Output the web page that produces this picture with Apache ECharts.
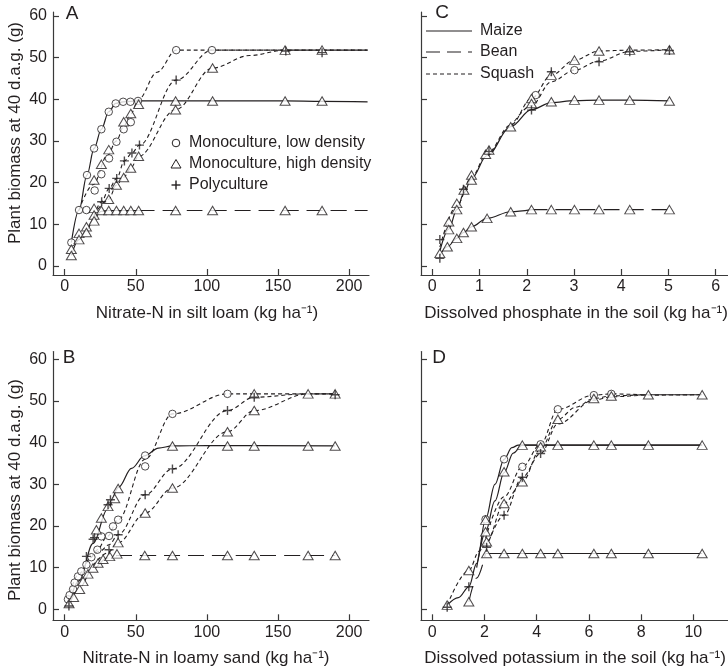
<!DOCTYPE html>
<html><head><meta charset="utf-8">
<script src="https://cdn.jsdelivr.net/npm/echarts@6/dist/echarts.min.js"></script>
<style>html,body{margin:0;padding:0;background:#fff}#c{width:728px;height:668px}</style>
</head><body><div id="c"></div>
<script>
// ---------- tick labels ----------
const xTicksNitrate = [0, 50, 100, 150, 200];
const xTicksPhosphate = [0, 1, 2, 3, 4, 5, 6];
const xTicksPotassium = [0, 2, 4, 6, 8, 10];
const yTicks = [0, 10, 20, 30, 40, 50, 60];

// ---------- Panel A : nitrate, silt loam ----------
const aCircles = [[4.7,5.6],[10.1,13.4],[15.3,13.4],[15.7,21.8],[20.7,28.2],[25.8,32.8],[31.0,37.0],[35.9,39.0],[41.1,39.4],[46.2,39.4],[51.6,39.6],
  [21.1,18.1],[25.8,22.0],[31.2,25.8],[36.4,29.8],[41.5,32.8],[46.5,34.5],[78.4,51.8],[103.6,51.8]];
const aTriangles = [[4.7,4.0],[4.7,2.5],[10.1,7.8],[10.1,6.3],[15.3,9.4],[15.3,8.0],[20.7,13.8],[20.7,12.2],[20.7,10.8],[20.7,20.6],
  [25.8,13.3],[25.8,24.4],[31.0,13.3],[31.0,27.9],[31.0,16.0],[36.4,13.3],[36.4,19.4],[41.5,13.3],[41.5,34.6],[41.5,21.2],
  [46.5,13.3],[46.5,36.6],[46.5,23.5],[52,13.3],[52,38.8],[52,26.3],[78,13.3],[78,39.6],[78,37.5],[104,13.3],[104,39.6],[104,47.5],
  [155,13.3],[155,39.6],[155,51.8],[181,13.3],[181,39.6],[181,51.8]];
const aPluses = [[26.0,15.4],[31.3,18.6],[36.6,21.0],[42.0,25.2],[47.3,27.1],[52.6,29.0],[78.4,44.6],[155.5,51.6],[181,51.2]];
const aMaizeCurve = [[4.7,5.6],[10.1,13.4],[15.7,21.8],[20.7,28.2],[25.8,32.8],[31,37],[35.9,39],[41,39.4],[52,39.6],[78,39.6],[104,39.6],[155,39.6],[181,39.5],[213,39.4]];
const aBeanCurve = [[4.7,2.5],[10.1,6.3],[15.3,8.5],[20.7,11.5],[25.8,13.1],[31,13.3],[52,13.3],[78,13.3],[104,13.3],[155,13.3],[181,13.3],[213,13.3]];
const aSquashLowCurve = [[10.1,13.4],[20,19.5],[30,26.5],[36.4,30],[41.5,33.5],[46.5,36.5],[52,40],[65,46.5],[78.4,51.8],[103.6,51.8],[155,51.8],[213,51.8]];
const aSquashPolyCurve = [[20.7,12],[26,15.4],[31.3,18.6],[36.6,21],[42,25.2],[47.3,27.1],[52.6,29],[78.4,44.6],[103.6,51.8],[155.5,51.8],[213,51.8]];
const aSquashHighCurve = [[20.7,12.2],[31,16],[36.4,19.4],[41.5,21.2],[46.5,23.5],[52,26.3],[78,37.5],[104,47.5],[130,50.5],[155,51.8],[181,51.8],[213,51.8]];

// ---------- Panel B : nitrate, loamy sand ----------
const bCircles = [[2.3,2.4],[3.5,3.4],[5.9,4.8],[7.0,6.4],[9.4,7.9],[11.7,9.1],[15.3,10.7],[18.8,12.5],[23.0,14.3],[25.8,17.5],[31.2,17.6],[34.0,19.9],[37.6,21.5],[56.6,36.9],[56.6,34.3],[75.8,46.9],[114.5,51.7]];
const bTriangles = [[3.1,1.4],[6.3,2.9],[10.6,4.8],[12.9,6.7],[16.4,8.5],[19.9,9.9],[23.5,11.1],[27.0,12.0],[31.7,12.7],[36.8,13.3],[56.3,12.9],[75.8,12.9],[114.5,12.9],[133.3,12.9],[171.2,12.9],[190.2,12.9],
  [22.3,19.1],[25.8,21.9],[30.5,24.7],[35.2,26.6],[37.6,29.0],[75.8,39.2],[114.5,39.2],[133.3,39.2],[171.2,39.2],[190.2,39.2],
  [37.6,16.0],[56.6,23.1],[75.8,29.1],[114.5,42.6],[133.3,47.7],[133.3,51.7],[171.2,51.7],[190.2,51.7]];
const bPluses = [[3,0.8],[15.3,12.7],[20,16.8],[21,17.2],[30.5,25.1],[32.2,26.3],[31.2,14.3],[37.6,17.9],[56.6,27.5],[75.8,33.7],[114.5,47.7],[133.3,50.9],[190.2,51.5]];
const bMaizeCurve = [[3.1,1.4],[10,6.8],[20,15.8],[30,24],[38,29.3],[47,33.8],[56,36.8],[66,38.7],[75.8,39.2],[100,39.3],[190.2,39.2]];
const bBeanCurve = [[3.1,1.0],[10,5],[20,9.8],[30,12.3],[37,12.9],[56.3,12.9],[114.5,12.9],[190.2,12.9]];
const bSquashLowCurve = [[2.3,2.4],[10,8.5],[18.8,12.5],[23,14.3],[30,17.5],[37.6,21.5],[56.6,36],[75.8,46.9],[114.5,51.7],[133.3,51.7],[190.2,51.7]];
const bSquashPolyCurve = [[15,11],[25,14],[31.2,15.5],[37.6,17.9],[56.6,27.5],[75.8,33.7],[114.5,47.7],[133.3,50.9],[170,51.7],[190.2,51.7]];
const bSquashHighCurve = [[20,10.5],[30,13.5],[37.6,16],[56.6,23.1],[75.8,29.1],[114.5,42.6],[133.3,47.7],[171.2,51.7],[190.2,51.7]];

// ---------- Panel C : phosphate ----------
const cTriangles = [[0.16,3.0],[0.32,4.6],[0.35,10.6],[0.35,8.7],[0.52,15.0],[0.52,13.5],[0.52,6.6],[0.66,8.0],[0.67,18.2],[0.83,21.8],[0.83,20.6],[0.83,9.4],
  [1.16,11.4],[1.13,26.8],[1.2,27.8],[1.66,33.4],[1.66,13.0],[2.1,13.5],[2.1,40.2],[2.1,39.0],[2.52,13.5],[2.52,39.4],[2.52,45.8],
  [3.01,13.5],[3.01,39.8],[3.01,49.4],[3.53,13.5],[3.53,39.8],[3.53,51.6],[4.18,13.5],[4.18,39.8],[4.18,51.8],[5.02,13.5],[5.02,39.6],[5.02,51.9]];
const cCircles = [[2.19,41.0],[3.01,47.0]];
const cPluses = [[0.16,6.3],[0.16,1.8],[0.66,18.4],[1.2,27.5],[2.1,37.4],[2.52,46.6],[3.53,49.0],[4.18,51.4],[5.02,51.7]];
const cMaizeCurve = [[0.16,3.5],[0.35,8.8],[0.52,13.5],[0.67,17.5],[0.83,21],[1.16,26.5],[1.66,33.4],[2.1,37.5],[2.52,39.2],[3.01,39.7],[3.53,39.8],[4.18,39.8],[5.02,39.6]];
const cBeanCurve = [[0.16,2.5],[0.32,4.6],[0.52,6.6],[0.66,8],[0.83,9.4],[1.16,11.4],[1.66,13.0],[2.1,13.5],[3.01,13.5],[5.02,13.5]];
const cSquashHighCurve = [[0.16,4.5],[0.52,14.5],[0.83,21.3],[1.16,27],[1.66,33.8],[2.1,40.2],[2.52,45.8],[3.01,49.4],[3.53,51.6],[4.18,51.8],[5.02,51.9]];
const cSquashLowCurve = [[1.66,33.4],[2.1,38.5],[2.52,44.2],[3.01,47],[3.53,49.2],[4.18,51.5],[5.02,51.9]];

// ---------- Panel D : potassium ----------
const dTriangles = [[0.57,1.0],[1.40,1.8],[1.40,9.3],[2.04,21.4],[2.04,18.6],[2.08,16.2],[2.08,13.4],[2.75,33.0],[2.75,25.4],[2.75,13.4],
  [3.45,39.4],[3.45,30.6],[3.45,13.4],[4.15,13.4],[4.15,39.0],[4.81,13.4],[4.81,39.4],[4.81,45.6],[6.19,13.4],[6.19,39.4],[6.19,50.6],
  [6.86,13.4],[6.86,39.4],[6.86,51.2],[8.28,13.4],[8.28,39.4],[8.28,51.5],[10.34,13.4],[10.34,39.4],[10.34,51.5]];
const dCircles = [[2.04,21.6],[2.75,36.0],[3.45,34.2],[4.15,39.6],[4.81,48.0],[6.19,51.4],[6.86,51.7]];
const dPluses = [[0.57,0.5],[1.40,5.4],[2.08,14.9],[2.75,22.6],[3.45,31.7],[4.15,37.4]];
const dMaizeLowCurve = [[0.57,1.0],[1.0,2.8],[1.4,5.4],[1.7,11],[2.04,21.6],[2.4,30],[2.75,36.0],[3.05,38.8],[3.3,39.4],[4.15,39.4],[10.34,39.4]];
const dMaizeHighCurve = [[1.7,10],[2.04,18.6],[2.4,26],[2.75,32.8],[3.1,37.5],[3.45,39.4],[6.19,39.4],[10.34,39.4]];
const dBeanCurve = [[1.4,1.8],[1.7,7.5],[2.04,13.4],[2.75,13.4],[6.19,13.4],[10.34,13.4]];
const dSquashHighCurve = [[0.57,1.0],[1.4,9.3],[1.8,14],[2.08,16.2],[2.75,25.4],[3.45,30.6],[4.15,38.5],[4.81,45.6],[5.5,48.5],[6.19,50.6],[6.86,51.2],[8.28,51.5],[10.34,51.5]];
const dSquashLowCurve = [[2.04,17],[2.75,27],[3.45,34.2],[4.15,39.6],[4.81,48.0],[6.19,51.4],[6.86,51.7],[8.28,51.5],[10.34,51.5]];
const dSquashPolyCurve = [[2.08,14.9],[2.75,22.6],[3.45,31.7],[4.15,37.4],[4.81,44.5],[6.19,50.2],[6.86,51],[8.28,51.4],[10.34,51.5]];

// ---------- styling ----------
const INK = '#231f20';
const AX = '#3a3a3a';
const FONT = '"Liberation Sans", Arial, Helvetica, sans-serif';
const SOLID = 'solid', LONG = [16, 8], SHORT = [4, 3];
const PLUS = 'path://M0,5L10,5M5,0L5,10';

function curve(g, data, type, w) {
  return { type: 'line', xAxisIndex: g, yAxisIndex: g, data: data, showSymbol: false, symbol: 'none',
    smooth: 0.35, smoothMonotone: 'x', silent: true, z: 1,
    lineStyle: { color: INK, width: w || 1.1, type: type } };
}
function splitCurve(g, data, xs, firstType, secondType) {
  return [curve(g, data.filter(p => p[0] <= xs), firstType), curve(g, data.filter(p => p[0] >= xs), secondType)];
}
function marks(g, data, kind) {
  const s = { type: 'scatter', xAxisIndex: g, yAxisIndex: g, data: data, silent: true, z: 3 };
  if (kind === 'circle') { s.symbol = 'circle'; s.symbolSize = 7.5; s.itemStyle = { color: '#fff', borderColor: INK, borderWidth: 1 }; }
  if (kind === 'triangle') { s.symbol = 'triangle'; s.symbolSize = [10, 8.5]; s.itemStyle = { color: '#fff', borderColor: INK, borderWidth: 1 }; }
  if (kind === 'plus') { s.symbol = PLUS; s.symbolSize = 9; s.z = 4; s.itemStyle = { color: 'rgba(0,0,0,0)', borderColor: INK, borderWidth: 1.4 }; }
  return s;
}

const grids = [
  { left: 53, top: 12, width: 316, height: 263 },    // A
  { left: 53, top: 351.5, width: 316, height: 268.8 },  // B
  { left: 421, top: 12, width: 307, height: 263 },   // C
  { left: 421, top: 351.5, width: 307, height: 268.8 }  // D
];
const xRanges = [[-8.2, 214], [-8.2, 214], [-0.239, 6.26], [-0.433, 11.33]];
const xTickSets = [xTicksNitrate, xTicksNitrate, xTicksPhosphate, xTicksPotassium];
const yRanges = [[-2.2, 60.96], [-2.64, 61.87], [-2.2, 60.96], [-2.64, 61.87]];

const xAxes = grids.map((g, i) => ({
  type: 'value', gridIndex: i, min: xRanges[i][0], max: xRanges[i][1],
  axisLine: { show: true, onZero: false, lineStyle: { color: AX, width: 1.2 } },
  axisTick: { show: true, inside: true, length: 6, customValues: xTickSets[i], lineStyle: { color: AX, width: 1.2 } },
  axisLabel: { show: true, customValues: xTickSets[i], fontSize: 16, color: INK, fontFamily: FONT, margin: 4 },
  splitLine: { show: false }
}));
const yAxes = grids.map((g, i) => ({
  type: 'value', gridIndex: i, min: yRanges[i][0], max: yRanges[i][1],
  axisLine: { show: true, onZero: false, lineStyle: { color: AX, width: 1.2 } },
  axisTick: { show: true, inside: true, length: 6, customValues: yTicks, lineStyle: { color: AX, width: 1.2 } },
  axisLabel: { show: i < 2, customValues: yTicks, fontSize: 16, color: INK, fontFamily: FONT, margin: 6 },
  splitLine: { show: false }
}));

const series = [
  // A
  curve(0, aMaizeCurve, SOLID, 1.2),
  ...splitCurve(0, aBeanCurve, 52, SOLID, LONG),
  curve(0, aSquashLowCurve, SHORT), curve(0, aSquashPolyCurve, SHORT), curve(0, aSquashHighCurve, SHORT),
  marks(0, aCircles, 'circle'), marks(0, aTriangles, 'triangle'), marks(0, aPluses, 'plus'),
  // B
  curve(1, bMaizeCurve, SOLID, 1.2), curve(1, bBeanCurve, LONG),
  curve(1, bSquashLowCurve, SHORT), curve(1, bSquashPolyCurve, SHORT), curve(1, bSquashHighCurve, SHORT),
  marks(1, bCircles, 'circle'), marks(1, bTriangles, 'triangle'), marks(1, bPluses, 'plus'),
  // C
  curve(2, cMaizeCurve, SOLID, 1.2),
  ...splitCurve(2, cBeanCurve, 2.1, SOLID, LONG),
  curve(2, cSquashHighCurve, SHORT), curve(2, cSquashLowCurve, SHORT),
  marks(2, cCircles, 'circle'), marks(2, cTriangles, 'triangle'), marks(2, cPluses, 'plus'),
  // D
  curve(3, dMaizeLowCurve, SOLID, 1.2), curve(3, dMaizeHighCurve, SOLID, 1.2),
  ...splitCurve(3, dBeanCurve, 2.04, LONG, SOLID),
  curve(3, dSquashHighCurve, SHORT), curve(3, dSquashLowCurve, SHORT), curve(3, dSquashPolyCurve, SHORT),
  marks(3, dCircles, 'circle'), marks(3, dTriangles, 'triangle'), marks(3, dPluses, 'plus')
];

function txt(x, y, s, size, rot) {
  return { type: 'text', x: x, y: y, rotation: rot || 0, z: 10,
    style: { text: s, fill: INK, font: size + 'px ' + FONT, align: 'center', verticalAlign: 'middle' } };
}
function ltxt(x, y, s) {
  return { type: 'text', x: x, y: y, z: 10, style: { text: s, fill: INK, font: '16px ' + FONT, align: 'left', verticalAlign: 'middle' } };
}
const sym = { fill: '#fff', stroke: INK, lineWidth: 1 };
const graphics = [
  txt(72, 14, 'A', 19), txt(69, 358, 'B', 19), txt(442, 13, 'C', 19), txt(439, 358, 'D', 19),
  txt(15, 133, 'Plant biomass at 40 d.a.g. (g)', 17, Math.PI / 2),
  txt(15, 490, 'Plant biomass at 40 d.a.g. (g)', 17, Math.PI / 2),
  txt(207, 313, 'Nitrate-N in silt loam (kg ha\u207B\u00B9)', 17),
  txt(206, 658, 'Nitrate-N in loamy sand (kg ha\u207B\u00B9)', 17),
  txt(576, 313, 'Dissolved phosphate in the soil (kg ha\u207B\u00B9)', 17),
  txt(575, 658, 'Dissolved potassium in the soil (kg ha\u207B\u00B9)', 17),
  // legend A
  { type: 'circle', z: 10, shape: { cx: 176, cy: 143, r: 3.8 }, style: sym },
  { type: 'polygon', z: 10, shape: { points: [[176, 159.5], [171, 168], [181, 168]] }, style: sym },
  { type: 'line', z: 10, shape: { x1: 171.5, y1: 185, x2: 180.5, y2: 185 }, style: { stroke: INK, lineWidth: 1.4 } },
  { type: 'line', z: 10, shape: { x1: 176, y1: 180.5, x2: 176, y2: 189.5 }, style: { stroke: INK, lineWidth: 1.4 } },
  ltxt(189, 143, 'Monoculture, low density'),
  ltxt(189, 164, 'Monoculture, high density'),
  ltxt(189, 185, 'Polyculture'),
  // legend C
  { type: 'line', z: 10, shape: { x1: 426, y1: 31, x2: 472, y2: 31 }, style: { stroke: INK, lineWidth: 1.2 } },
  { type: 'line', z: 10, shape: { x1: 426, y1: 52, x2: 472, y2: 52 }, style: { stroke: INK, lineWidth: 1.1, lineDash: [14, 7] } },
  { type: 'line', z: 10, shape: { x1: 426, y1: 74, x2: 472, y2: 74 }, style: { stroke: INK, lineWidth: 1.1, lineDash: [4, 3] } },
  ltxt(480, 31, 'Maize'), ltxt(480, 52, 'Bean'), ltxt(480, 74, 'Squash')
];

const chart = echarts.init(document.getElementById('c'), null, { renderer: 'canvas' });
chart.setOption({
  animation: false,
  backgroundColor: '#fff',
  textStyle: { fontFamily: FONT },
  grid: grids,
  xAxis: xAxes,
  yAxis: yAxes,
  series: series,
  graphic: graphics
});
</script>
</body></html>
